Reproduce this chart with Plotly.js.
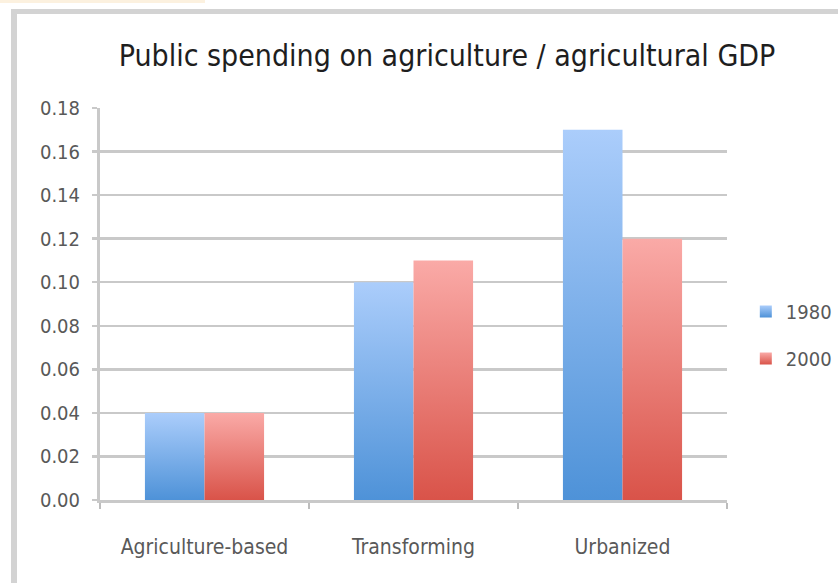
<!DOCTYPE html>
<html>
<head>
<meta charset="utf-8">
<script src="https://cdn.plot.ly/plotly-3.0.1.min.js"></script>
<style>
  html, body { margin: 0; padding: 0; background: #ffffff; }
  #wrap { position: relative; width: 838px; height: 583px; overflow: hidden; }
  #chart { position: absolute; left: 0; top: 0; width: 838px; height: 583px; }
  #frame { position: absolute; left: 11px; top: 9px; width: 840px; height: 600px;
           border-left: 6px solid #d3d3d3; border-top: 5px solid #d3d3d3; pointer-events: none; }
  #strip { position: absolute; left: 0; top: 0; width: 205px; height: 3px; background: #fcf1df; }
</style>
</head>
<body>
<div id="wrap">
  <div id="strip"></div>
  <div id="chart"></div>
  <div id="frame"></div>
</div>
<script>
// Data
const categories = ["Agriculture-based", "Transforming", "Urbanized"];
const seriesNames = ["1980", "2000"];
const values1980 = [0.04, 0.10, 0.17];
const values2000 = [0.04, 0.11, 0.12];
const yTickValues = [0, 0.02, 0.04, 0.06, 0.08, 0.10, 0.12, 0.14, 0.16, 0.18];

const FONT = '"DejaVu Sans Condensed", "Liberation Sans Narrow", Arial, sans-serif';
const gridCol = '#c9c9c9';

const traces = [
  { type: 'bar', name: seriesNames[0], x: categories, y: values1980,
    marker: { color: '#7aaef0', line: { width: 0 } }, legendgroup: 'a' },
  { type: 'bar', name: seriesNames[1], x: categories, y: values2000,
    marker: { color: '#ee7f79', line: { width: 0 } }, legendgroup: 'b' }
];

const layout = {
  width: 838, height: 583,
  margin: { l: 100, r: 111, t: 108, b: 83, autoexpand: false },
  paper_bgcolor: 'rgba(0,0,0,0)',
  plot_bgcolor: 'rgba(0,0,0,0)',
  barmode: 'group',
  bargap: 0.43,
  bargroupgap: 0,
  title: { text: 'Public spending on agriculture / agricultural GDP',
           font: { family: FONT, size: 30, color: '#1e1e1e' },
           x: 447 / 838, xref: 'container', xanchor: 'center',
           y: 1 - 55 / 583, yref: 'container', yanchor: 'middle' },
  xaxis: {
    type: 'category',
    showline: true, linecolor: gridCol, linewidth: 3,
    showgrid: false, zeroline: false,
    ticks: 'outside', tickson: 'boundaries', ticklen: 6, tickwidth: 1.5, tickcolor: '#bdbdbd',
    tickfont: { family: FONT, size: 21, color: '#595959' },
    ticklabelstandoff: 26
  },
  yaxis: {
    range: [0, 0.18], tickvals: yTickValues, tickformat: '.2f',
    showline: true, linecolor: gridCol, linewidth: 3,
    showgrid: true, gridcolor: gridCol, gridwidth: 2.5,
    zeroline: false,
    ticks: 'outside', ticklen: 5, tickwidth: 2.5, tickcolor: gridCol,
    tickfont: { family: FONT, size: 20, color: '#595959' },
    ticklabelstandoff: 8
  },
  showlegend: true,
  legend: {
    x: 1.03, xanchor: 'left', y: 0.421, yanchor: 'middle',
    font: { family: FONT, size: 20, color: '#595959' },
    tracegroupgap: 18, itemwidth: 30,
    bgcolor: 'rgba(0,0,0,0)'
  }
};

function addGradients(gd) {
  const svgNS = 'http://www.w3.org/2000/svg';
  const svg = gd.querySelector('svg.main-svg');
  let defs = svg.querySelector('defs');
  if (!defs) { defs = document.createElementNS(svgNS, 'defs'); svg.insertBefore(defs, svg.firstChild); }
  const grads = [
    { id: 'gBlue', top: '#abcdfb', bottom: '#4e92d8' },
    { id: 'gRed', top: '#faaaa7', bottom: '#d95349' }
  ];
  grads.forEach(g => {
    const lg = document.createElementNS(svgNS, 'linearGradient');
    lg.setAttribute('id', g.id);
    lg.setAttribute('x1', '0'); lg.setAttribute('y1', '0');
    lg.setAttribute('x2', '0'); lg.setAttribute('y2', '1');
    const s1 = document.createElementNS(svgNS, 'stop');
    s1.setAttribute('offset', '0'); s1.setAttribute('stop-color', g.top);
    const s2 = document.createElementNS(svgNS, 'stop');
    s2.setAttribute('offset', '1'); s2.setAttribute('stop-color', g.bottom);
    lg.appendChild(s1); lg.appendChild(s2);
    defs.appendChild(lg);
  });
  const barTraces = gd.querySelectorAll('.barlayer .trace.bars');
  barTraces.forEach((t, i) => {
    t.querySelectorAll('.point path').forEach(p => { p.style.fill = 'url(#' + grads[i].id + ')'; });
  });
  const legTraces = gd.querySelectorAll('.legend .traces');
  legTraces.forEach((t, i) => {
    t.querySelectorAll('.legendpoints path').forEach(p => { p.style.fill = 'url(#' + grads[i].id + ')'; });
  });
}

Plotly.newPlot('chart', traces, layout, { staticPlot: true, displayModeBar: false })
  .then(gd => addGradients(gd));
</script>
</body>
</html>
